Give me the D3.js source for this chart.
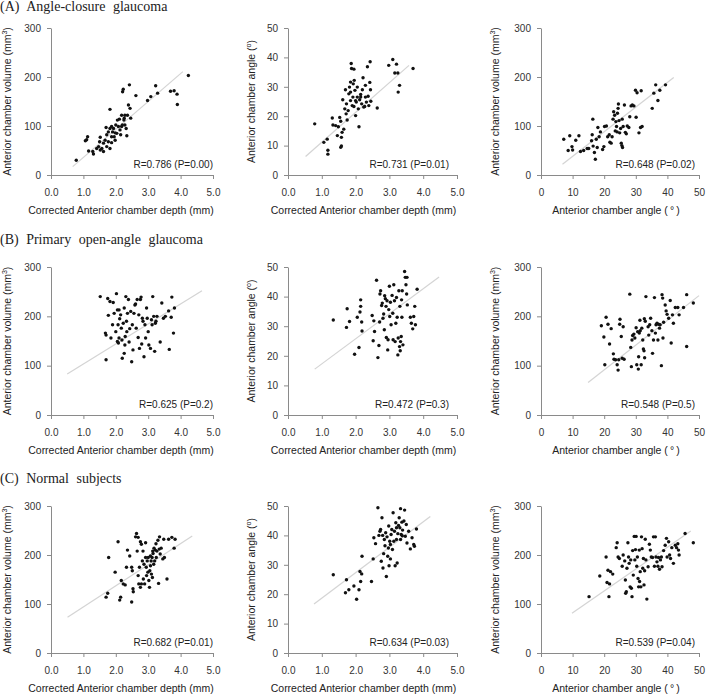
<!DOCTYPE html>
<html>
<head>
<meta charset="utf-8">
<script src="https://cdn.jsdelivr.net/npm/d3@7"></script>
<style>
  body { margin: 0; background: #fff; }
  svg text { font-family: "Liberation Sans", Arial, sans-serif; fill: #222; }
  .grp { font-family: "Liberation Serif", "DejaVu Serif", serif !important; font-size: 14px; word-spacing: 4px; }
  .axis path, .axis line { stroke: #8a8a8a; }
  .axis text { font-size: 10px; fill: #333; }
  .fit { stroke: #d4d4d4; stroke-width: 1.2; }
</style>
</head>
<body>
<svg id="fig" width="712" height="694"></svg>
<script>
// ---- data ----
var groupTitles = ["(A) Angle-closure glaucoma", "(B) Primary open-angle glaucoma", "(C) Normal subjects"];
var rValues = [
  ["R=0.786 (P=0.00)", "R=0.731 (P=0.01)", "R=0.648 (P=0.02)"],
  ["R=0.625 (P=0.2)", "R=0.472 (P=0.3)", "R=0.548 (P=0.5)"],
  ["R=0.682 (P=0.01)", "R=0.634 (P=0.03)", "R=0.539 (P=0.04)"]
];
var depthTicks = [0, 1, 2, 3, 4, 5];
var angleTicks = [0, 10, 20, 30, 40, 50];
var volumeTicks = [0, 100, 200, 300];

// fitted lines [x1,y1,x2,y2]
var fitLines = [
  [[0.67,17,4.07,211], [0.52,6.3,3.58,37.3], [6.8,22,42,199]],
  [[0.5,83,4.66,252], [0.79,15.5,4.47,46.6], [14.9,66,50,242]],
  [[0.51,73,4.36,239], [0.77,16.7,4.21,46.4], [9.8,81,47.4,249]]
];

// (A) angle-closure
var acgDepthVol = [[0.78,30],[1.13,78],[1.1,72],[1.06,70],[1.16,49],[1.31,43],[1.29,48],[1.47,58],[1.52,77],[1.5,68],[1.57,54],[1.62,65],[1.67,71],[1.72,82],[1.7,97],[1.77,88],[1.82,134],[1.87,78],[1.9,88],[1.93,95],[1.98,71],[2.03,85],[2.08,99],[2.05,112],[2.11,114],[2.15,82],[2.18,99],[2.21,170],[2.23,175],[2.25,112],[2.28,122],[2.32,95],[2.34,80],[2.36,122],[2.39,143],[2.42,184],[2.44,136],[2.46,116],[2.62,162],[2.98,152],[3.08,160],[3.23,182],[3.29,167],[3.69,171],[3.8,172],[3.89,165],[3.9,144],[4.24,203],[1.41,54],[1.52,51],[1.62,48],[1.72,58],[1.82,54],[1.77,68],[1.87,66],[1.95,78],[1.98,86],[1.82,95],[1.87,99],[2.0,102],[2.13,92],[2.2,102],[2.28,102],[2.26,116],[2.18,122]];
var acgDepthAngle = [[0.79,17.4],[1.06,11.1],[1.16,12.2],[1.18,8.4],[1.18,7.1],[1.31,19.4],[1.33,17],[1.41,16.8],[1.46,13.4],[1.49,16.4],[1.53,19.6],[1.56,18.3],[1.56,9.4],[1.58,9.9],[1.58,12.8],[1.6,14.5],[1.62,25.6],[1.65,15.6],[1.68,22.5],[1.7,29],[1.72,20.8],[1.73,24.2],[1.75,18.7],[1.78,21.9],[1.8,27.6],[1.82,29.9],[1.85,25.3],[1.85,31.6],[1.87,37.9],[1.88,36.2],[1.9,23.6],[1.92,26.5],[1.93,31],[1.95,36],[1.96,32.2],[1.98,28.8],[2.0,20.2],[2.02,24.8],[2.05,26.5],[2.08,22.5],[2.1,16.4],[2.12,25.6],[2.15,26.5],[2.18,24.2],[2.2,29],[2.22,33.1],[2.24,23.1],[2.27,23.3],[2.29,30.5],[2.32,24.8],[2.35,36.8],[2.37,26.8],[2.39,23.6],[2.42,31.5],[2.43,38.5],[2.44,29],[2.45,25.1],[2.64,22.8],[2.98,37.3],[3.1,39.3],[3.16,34.7],[3.21,37.7],[3.25,34.7],[3.26,28.2],[3.3,30.5],[3.7,36.2],[1.85,28.2],[1.95,23.3],[2.05,29.9],[2.15,27.4],[2.29,26.5],[2.0,25.3]];
var acgAngleVol = [[7.2,73],[8.6,50],[9.1,80],[9.8,58],[10,51],[11,71],[12,80],[12.5,48],[13.5,50],[14.6,54],[15.1,54],[16,70],[16.2,82],[16.4,114],[16.5,59],[16.9,46],[17.2,32],[17.5,73],[17.8,56],[18,97],[18.4,78],[18.8,88],[19.5,52],[19.9,58],[20.1,99],[20.7,100],[21.1,78],[21.6,82],[21.8,67],[22.2,65],[22.5,78],[22.8,114],[23,129],[23.3,122],[23.5,90],[23.7,109],[23.9,99],[24.1,88],[24.2,126],[24.4,136],[24.5,145],[24.7,111],[24.9,86],[25.2,95],[25.4,65],[25.6,60],[25.7,114],[25.8,56],[26,99],[26.4,143],[26.7,87],[27,84],[27.3,100],[27.8,97],[28.1,119],[28.5,141],[28.9,143],[29.4,141],[29.9,173],[30.1,118],[30.4,168],[31,86],[31.5,97],[31.7,172],[32,99],[35.2,136],[35.7,167],[36.3,184],[37,152],[37.6,173],[39.4,184]];

// (B) primary open-angle
var poagDepthVol = [[1.52,240],[1.68,166],[1.7,112],[1.7,162],[1.75,236],[1.77,202],[1.82,230],[1.85,156],[1.9,183],[1.92,228],[1.95,206],[2.0,169],[2.02,246],[2.05,149],[2.05,213],[2.07,183],[2.08,146],[2.1,213],[2.1,156],[2.12,195],[2.15,203],[2.17,176],[2.19,152],[2.2,115],[2.23,186],[2.26,125],[2.26,217],[2.28,142],[2.29,159],[2.31,240],[2.33,190],[2.34,169],[2.36,206],[2.39,234],[2.41,148],[2.43,175],[2.46,210],[2.49,108],[2.51,183],[2.53,132],[2.56,206],[2.59,223],[2.61,225],[2.63,176],[2.66,234],[2.69,157],[2.71,203],[2.73,135],[2.76,234],[2.78,239],[2.8,144],[2.82,196],[2.84,190],[2.87,118],[2.9,183],[2.92,156],[2.95,217],[2.97,196],[3.0,169],[3.02,142],[3.07,135],[3.1,193],[3.12,183],[3.14,240],[3.17,200],[3.2,129],[3.22,186],[3.24,190],[3.27,200],[3.37,148],[3.42,227],[3.47,196],[3.53,200],[3.63,211],[3.65,133],[3.71,198],[3.73,239],[3.78,166],[3.81,217]];
var poagDepthAngle = [[1.34,32.1],[1.73,29.6],[1.75,35.9],[1.82,31.6],[1.97,20.5],[2.05,33],[2.1,22.8],[2.13,34.8],[2.15,36.7],[2.15,38.9],[2.18,31.4],[2.19,28.4],[2.49,33.6],[2.52,25.1],[2.54,31.8],[2.56,28.2],[2.62,45.5],[2.66,19.4],[2.69,23.5],[2.71,31.4],[2.72,40.9],[2.74,42],[2.77,37],[2.79,37.8],[2.81,32.7],[2.83,34.1],[2.85,28.8],[2.86,40.3],[2.88,39.3],[2.9,36.7],[2.91,26.2],[2.93,38.6],[2.95,22],[2.96,25.4],[2.98,35.6],[3.0,43.5],[3.01,33.3],[3.03,38.1],[3.05,30.5],[3.08,40.4],[3.1,34.4],[3.11,25.4],[3.13,44],[3.15,38.6],[3.17,24.8],[3.19,31],[3.21,39.7],[3.23,33],[3.25,20.3],[3.26,26],[3.28,42],[3.3,23.1],[3.31,36.7],[3.32,21.7],[3.33,24.8],[3.35,26.5],[3.36,38.9],[3.37,33],[3.38,42],[3.4,23.7],[3.45,48.5],[3.47,46.5],[3.49,44],[3.51,40.9],[3.53,37.2],[3.62,33],[3.65,31],[3.69,29.1],[3.72,33.3],[3.75,36.7],[3.77,30.5],[3.82,42.5],[3.52,46.5]];
var poagAngleVol = [[19.1,181],[19.9,158],[20.2,102],[20.6,198],[21.2,184],[21.7,144],[22.2,175],[22.9,124],[23.1,113],[23.6,112],[24.1,102],[24.4,91],[24.6,112],[24.9,184],[25,194],[25.4,159],[25.7,115],[26,179],[26.3,113],[28.1,245],[28.4,137],[28.6,98],[28.8,152],[29,161],[29.4,164],[29.7,156],[30.1,177],[30.3,102],[30.6,169],[30.8,93],[30.9,118],[31.1,166],[31.3,192],[31.4,171],[31.7,102],[31.9,176],[32.2,152],[32.4,134],[32.6,130],[32.7,195],[32.8,116],[33,190],[33.2,240],[33.9,179],[34.1,162],[34.4,183],[34.7,196],[35.1,171],[35.3,125],[35.6,152],[35.9,238],[36.2,166],[36.4,183],[36.7,186],[37,152],[37.2,184],[37.5,176],[37.7,183],[38.1,100],[38.3,244],[38.5,237],[38.6,156],[38.8,188],[39.3,223],[39.6,211],[39.9,204],[40.4,196],[40.9,232],[41.2,146],[41.6,203],[41.9,186],[42.5,218],[43.3,218],[43.7,203],[45.1,218],[46.1,244],[46.1,139],[48.2,227]];

// (C) normal subjects
var normDepthVol = [[1.7,114],[1.75,122],[1.78,195],[1.98,165],[2.07,227],[2.12,108],[2.15,114],[2.17,148],[2.23,141],[2.29,139],[2.33,175],[2.36,210],[2.43,198],[2.49,175],[2.49,104],[2.51,168],[2.53,131],[2.54,125],[2.61,237],[2.64,244],[2.66,208],[2.69,236],[2.69,158],[2.71,141],[2.73,175],[2.76,227],[2.76,134],[2.79,222],[2.79,141],[2.82,188],[2.84,208],[2.85,151],[2.87,181],[2.89,141],[2.92,195],[2.94,175],[2.95,158],[2.97,188],[2.99,165],[3.0,195],[3.02,148],[3.04,134],[3.05,168],[3.07,178],[3.09,188],[3.1,161],[3.12,195],[3.13,154],[3.14,208],[3.15,203],[3.17,181],[3.18,214],[3.2,188],[3.22,210],[3.24,223],[3.25,195],[3.27,208],[3.3,230],[3.32,142],[3.34,212],[3.35,237],[3.37,202],[3.4,214],[3.45,192],[3.48,232],[3.5,195],[3.58,151],[3.63,232],[3.73,236],[3.8,214],[3.83,232],[2.92,225],[3.07,198]];
var normDepthAngle = [[1.34,26.6],[1.73,24.9],[1.7,20.5],[1.8,21.5],[1.95,22.8],[2.03,18.3],[2.1,21.5],[2.13,27.7],[2.15,24.3],[2.18,26.9],[2.19,32.9],[2.47,24.3],[2.52,32],[2.54,39.2],[2.59,37.2],[2.66,49.4],[2.69,40],[2.72,41.4],[2.74,42],[2.76,31.2],[2.78,46],[2.8,40],[2.81,28.9],[2.83,33.8],[2.85,38.6],[2.87,36.5],[2.89,40.9],[2.91,26],[2.93,39.5],[2.95,32.9],[2.97,35.7],[2.98,43.2],[2.99,29.7],[3.01,38],[3.03,32],[3.05,40.3],[3.07,42],[3.09,35.2],[3.11,47.7],[3.13,38],[3.15,41.4],[3.17,29.7],[3.19,44.3],[3.21,38.6],[3.23,30.6],[3.25,40.6],[3.27,43.4],[3.29,46],[3.31,42.6],[3.33,49.1],[3.35,40.3],[3.37,44.5],[3.39,41.8],[3.43,44.9],[3.45,48.6],[3.47,39.7],[3.5,43.7],[3.52,37.4],[3.57,41.4],[3.62,35.4],[3.67,39.2],[3.72,36.9],[3.74,36.3],[3.8,42.2],[3.33,38.6],[3.21,42.6],[3.38,39.9],[3.03,36.9]];
var normAngleVol = [[15.2,115],[18.6,157],[20.6,196],[20.9,144],[21.2,169],[21.5,115],[21.7,141],[22,166],[22.7,161],[23.8,215],[24.1,225],[24.4,196],[24.8,193],[25.7,177],[26,200],[26.5,188],[26.7,149],[26.8,122],[27,125],[27.2,173],[27.5,225],[27.7,196],[27.9,183],[28.2,135],[28.4,190],[28.6,132],[28.8,115],[29,209],[29.2,159],[29.5,238],[29.7,190],[29.9,211],[30.1,238],[30.3,177],[30.5,196],[30.7,152],[30.9,135],[31.1,210],[31.2,146],[31.4,166],[31.6,135],[31.8,237],[32,213],[32.2,173],[32.4,193],[32.6,139],[32.8,168],[33,232],[33.2,190],[33.5,110],[33.9,176],[34.3,222],[34.6,210],[34.9,196],[35.3,195],[35.6,237],[35.9,177],[36.2,237],[36.4,196],[36.7,186],[37,177],[37.2,195],[37.5,171],[37.8,190],[38.1,196],[38.3,176],[38.8,209],[39.3,220],[39.7,234],[39.9,196],[40.4,227],[40.7,200],[41,193],[41.4,215],[41.9,183],[42.5,220],[42.9,215],[43.3,223],[43.5,210],[43.7,200],[45.6,244],[48.2,225]];

var panelData = [
  [acgDepthVol, acgDepthAngle, acgAngleVol],
  [poagDepthVol, poagDepthAngle, poagAngleVol],
  [normDepthVol, normDepthAngle, normAngleVol]
];

// ---- layout ----
var colLeft = [51, 288, 541], colRight = [213, 457, 699];
var rowTop = [28, 267, 506], rowBottom = [175, 415, 653];
var titleBase = [11, 244, 483];
var yTitleX = [11, 255, 499];
var xTitleShift = [-11, -9, -4];
var rRight = [0, -8, -4];

var svg = d3.select("#fig");

groupTitles.forEach(function(t, r) {
  svg.append("text").attr("class", "grp")
    .attr("x", 0).attr("y", titleBase[r]).text(t);
});

for (var r = 0; r < 3; r++) {
  for (var c = 0; c < 3; c++) {
    var xIsAngle = (c == 2);
    var yIsAngle = (c == 1);
    var x = d3.scaleLinear().domain([0, xIsAngle ? 50 : 5]).range([colLeft[c], colRight[c]]);
    var y = d3.scaleLinear().domain([0, yIsAngle ? 50 : 300]).range([rowBottom[r], rowTop[r]]);
    var g = svg.append("g");

    g.append("g").attr("class", "axis")
      .attr("transform", "translate(0," + rowBottom[r] + ")")
      .call(d3.axisBottom(x).tickValues(xIsAngle ? angleTicks : depthTicks).tickSize(4).tickPadding(10).tickSizeOuter(0));
    g.append("g").attr("class", "axis")
      .attr("transform", "translate(" + colLeft[c] + ",0)")
      .call(d3.axisLeft(y).tickValues(yIsAngle ? angleTicks : volumeTicks).tickSize(4).tickPadding(6).tickSizeOuter(0));

    var f = fitLines[r][c];
    g.append("line").attr("class", "fit")
      .attr("x1", x(f[0])).attr("y1", y(f[1]))
      .attr("x2", x(f[2])).attr("y2", y(f[3]));

    g.selectAll("circle").data(panelData[r][c]).enter().append("circle")
      .attr("cx", function(d) { return x(d[0]); })
      .attr("cy", function(d) { return y(d[1]); })
      .attr("r", 1.7)
      .attr("fill", "#111");

    g.append("text")
      .attr("x", colRight[c] + rRight[c]).attr("y", rowBottom[r] - 7)
      .attr("text-anchor", "end").style("font-size", "10px")
      .text(rValues[r][c]);

    // x title
    var xt = g.append("text")
      .attr("x", (colLeft[c] + colRight[c]) / 2 + xTitleShift[c])
      .attr("y", rowBottom[r] + 39)
      .attr("text-anchor", "middle").style("font-size", "10.5px");
    if (xIsAngle) xt.text("Anterior chamber angle (\u2009\u00B0\u2009)");
    else xt.text("Corrected Anterior chamber depth (mm)");

    // y title
    var yt = g.append("text")
      .attr("transform", "translate(" + yTitleX[c] + "," + ((rowTop[r] + rowBottom[r]) / 2) + ") rotate(-90)")
      .attr("text-anchor", "middle").style("font-size", "10.5px");
    if (yIsAngle) {
      yt.append("tspan").text("Anterior chamber angle (");
      yt.append("tspan").attr("dy", -4).style("font-size", "7px").text("o");
      yt.append("tspan").attr("dy", 4).text(")");
    } else {
      yt.append("tspan").text("Anterior chamber volume (mm");
      yt.append("tspan").attr("dy", -4).style("font-size", "7px").text("3");
      yt.append("tspan").attr("dy", 4).text(")");
    }
  }
}
</script>
</body>
</html>
